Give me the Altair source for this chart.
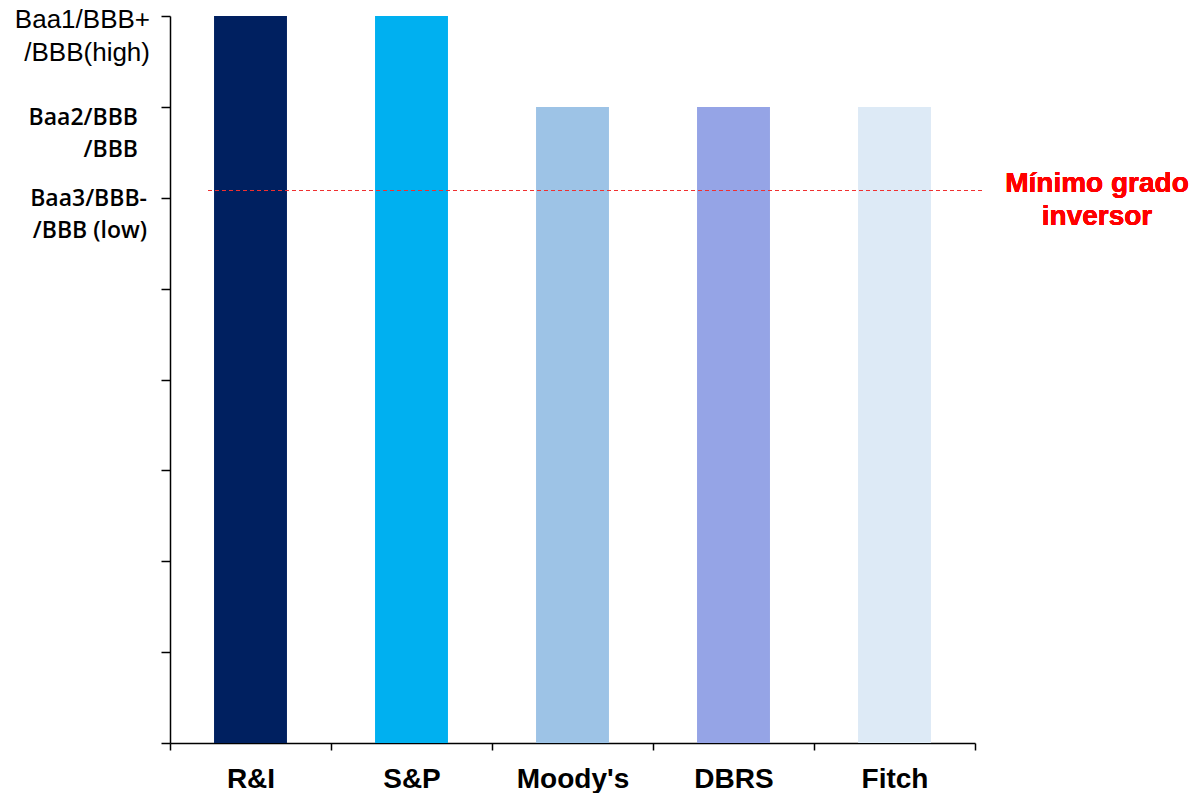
import altair as alt
import pandas as pd

agencies = ["R&I", "S&P", "Moody's", "DBRS", "Fitch"]
ratings = [8, 8, 7, 7, 7]
bar_colors = ["#002060", "#00B0F0", "#9DC3E6", "#95A4E6", "#DDEAF6"]

tick_values = [0, 1, 2, 3, 4, 5, 6, 7, 8]
label_values = [8, 7, 6]
label_texts = ["Baa1/BBB+\n/BBB(high)", "Baa2/BBB\n/BBB", "Baa3/BBB-\n/BBB (low)"]

threshold = 6.08
threshold_text = "Mínimo grado\ninversor"

bars_df = pd.DataFrame({"agency": agencies, "rating": ratings})
labels_df = pd.DataFrame({"v": label_values, "label": label_texts})

yscale = alt.Scale(domain=[0, 8], nice=False, zero=True)

bars = alt.Chart(bars_df).mark_bar(width=alt.RelativeBandSize(0.453)).encode(
    x=alt.X(
        "agency:N",
        sort=agencies,
        scale=alt.Scale(paddingInner=0, paddingOuter=0),
        axis=alt.Axis(
            title=None, labelAngle=0, tickBand="extent",
            labelFont="Liberation Sans", labelFontWeight="bold", labelFontSize=28,
            labelColor="black", labelPadding=15, tickSize=7,
            domainColor="black", tickColor="black", domainWidth=1.5, tickWidth=1.5,
        ),
    ),
    y=alt.Y(
        "rating:Q",
        scale=yscale,
        axis=alt.Axis(
            title=None, values=tick_values, labels=False, grid=False,
            tickSize=9, domainColor="black", tickColor="black",
            domainWidth=1.5, tickWidth=1.5,
        ),
    ),
    color=alt.Color("agency:N", scale=alt.Scale(domain=agencies, range=bar_colors), legend=None),
)

rule = alt.Chart(bars_df).mark_rule(
    color="#F03030", strokeDash=[4, 3], strokeWidth=1.2
).encode(
    y=alt.Y(datum=threshold, type="quantitative", scale=yscale),
    x=alt.value(38),
    x2=alt.value(815),
)

thr_text = alt.Chart(bars_df).mark_text(
    lineBreak="\n", font="Liberation Sans", fontWeight="bold", fontSize=28,
    color="#FF0000", align="center", baseline="top", lineHeight=33, dy=-20,
).encode(
    y=alt.Y(datum=threshold, type="quantitative", scale=yscale),
    x=alt.value(927),
    text=alt.value(threshold_text),
)

lab8 = alt.Chart(labels_df).transform_filter("datum.v == 8").mark_text(
    lineBreak="\n", font="Liberation Sans", fontSize=26, color="black",
    align="right", baseline="top", lineHeight=33, dy=-9,
).encode(
    y=alt.Y("v:Q", scale=yscale),
    x=alt.value(-20),
    text="label:N",
)

lab7 = alt.Chart(labels_df).transform_filter("datum.v == 7").mark_text(
    lineBreak="\n", font="Open Sans", fontWeight=600, fontSize=23, color="black",
    align="right", baseline="top", lineHeight=32, dy=0,
).encode(
    y=alt.Y("v:Q", scale=yscale),
    x=alt.value(-32),
    text="label:N",
)

lab6 = alt.Chart(labels_df).transform_filter("datum.v == 6").mark_text(
    lineBreak="\n", font="Open Sans", fontWeight=600, fontSize=23, color="black",
    align="right", baseline="top", lineHeight=32, dy=-10,
).encode(
    y=alt.Y("v:Q", scale=yscale),
    x=alt.value(-23),
    text="label:N",
)

chart = alt.layer(bars, rule, thr_text, lab8, lab7, lab6).properties(
    width=805,
    height=727,
    autosize=alt.AutoSizeParams(type="none"),
    padding={"left": 162, "top": 8, "right": 215, "bottom": 50},
).configure_view(stroke=None)

chart.save("out.html", embed_options={"renderer": "svg", "actions": False})
